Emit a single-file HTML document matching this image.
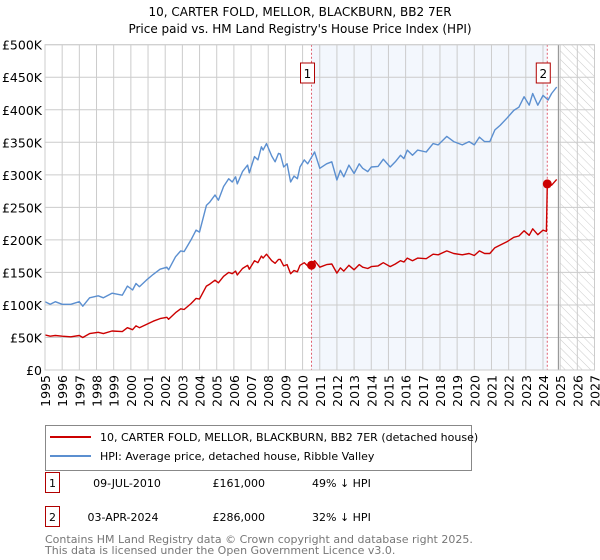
<!DOCTYPE html>
<html><head><meta charset="utf-8"><style>
body{margin:0;background:#fff;font-family:"DejaVu Sans","Liberation Sans",sans-serif;}
#wrap{position:relative;width:600px;height:560px;overflow:hidden;}
svg text{font-family:"DejaVu Sans","Liberation Sans",sans-serif;}
</style></head><body>
<div id="wrap">
<svg id="chart" width="600" height="560" style="position:absolute;left:0;top:0">
<defs>
<pattern id="hatch" width="6" height="6" patternUnits="userSpaceOnUse" patternTransform="rotate(-45)">
<line x1="0" y1="0" x2="0" y2="6" stroke="#ccc" stroke-width="1"/>
</pattern>
</defs>
<text x="300" y="16" text-anchor="middle" font-size="12" fill="#000">10, CARTER FOLD, MELLOR, BLACKBURN, BB2 7ER</text>
<text x="300" y="33" text-anchor="middle" font-size="12" fill="#000">Price paid vs. HM Land Registry's House Price Index (HPI)</text>
<g id="plot"></g>
</svg>
</div>
<script>
const yTicks=[0,50,100,150,200,250,300,350,400,450,500];
const yTickLabels=["£0","£50K","£100K","£150K","£200K","£250K","£300K","£350K","£400K","£450K","£500K"];
const xYears=[1995,1996,1997,1998,1999,2000,2001,2002,2003,2004,2005,2006,2007,2008,2009,2010,2011,2012,2013,2014,2015,2016,2017,2018,2019,2020,2021,2022,2023,2024,2025,2026,2027];
const hpiYears=[1995.0,1995.3,1995.6,1996.0,1996.5,1997.0,1997.2,1997.6,1998.1,1998.4,1998.9,1999.5,1999.8,2000.1,2000.3,2000.5,2000.9,2001.3,2001.7,2002.1,2002.2,2002.6,2002.9,2003.1,2003.5,2003.8,2004.0,2004.4,2004.6,2004.9,2005.1,2005.4,2005.7,2005.9,2006.1,2006.2,2006.5,2006.8,2006.9,2007.2,2007.4,2007.6,2007.7,2007.9,2008.2,2008.4,2008.6,2008.7,2008.9,2009.1,2009.3,2009.5,2009.7,2009.85,2010.1,2010.3,2010.7,2011.0,2011.4,2011.7,2012.0,2012.2,2012.4,2012.7,2013.0,2013.3,2013.5,2013.8,2014.0,2014.4,2014.7,2015.1,2015.4,2015.7,2015.9,2016.1,2016.4,2016.7,2017.2,2017.6,2017.9,2018.4,2018.8,2019.3,2019.7,2020.0,2020.3,2020.6,2020.9,2021.2,2021.5,2021.9,2022.3,2022.6,2022.9,2023.2,2023.4,2023.7,2024.0,2024.3,2024.5,2024.8];
const hpiValues=[105,101,105,101,101,105,98,111,114,111,118,115,129,123,133,128,138,147,155,158,154,174,183,182,200,215,212,253,258,269,261,282,294,289,297,286,305,315,303,328,323,343,338,348,329,320,333,332,312,317,289,298,294,312,323,317,335,310,317,320,292,307,297,315,302,317,310,305,312,313,324,312,320,330,325,338,330,338,335,348,346,359,351,346,351,346,358,351,351,369,376,387,399,404,420,407,425,407,422,415,425,435];
const priceYears=[1995.0,1995.3,1995.6,1996.0,1996.5,1997.0,1997.2,1997.6,1998.1,1998.4,1998.9,1999.5,1999.8,2000.1,2000.3,2000.5,2000.9,2001.3,2001.7,2002.1,2002.2,2002.6,2002.9,2003.1,2003.5,2003.8,2004.0,2004.4,2004.6,2004.9,2005.1,2005.4,2005.7,2005.9,2006.1,2006.2,2006.5,2006.8,2006.9,2007.2,2007.4,2007.6,2007.7,2007.9,2008.2,2008.4,2008.6,2008.7,2008.9,2009.1,2009.3,2009.5,2009.7,2009.85,2010.1,2010.3,2010.52,2010.7,2011.0,2011.4,2011.7,2012.0,2012.2,2012.4,2012.7,2013.0,2013.3,2013.5,2013.8,2014.0,2014.4,2014.7,2015.1,2015.4,2015.7,2015.9,2016.1,2016.4,2016.7,2017.2,2017.6,2017.9,2018.4,2018.8,2019.3,2019.7,2020.0,2020.3,2020.6,2020.9,2021.2,2021.5,2021.9,2022.3,2022.6,2022.9,2023.2,2023.4,2023.7,2024.0,2024.2,2024.25,2024.5,2024.8];
const priceValues=[54,52,53,52,51,53,50,56,58,56,60,59,65,62,68,65,70,75,79,81,78,88,94,93,102,110,109,129,132,138,134,144,150,148,152,146,156,161,155,168,165,175,172,178,168,164,170,170,160,162,148,153,151,161,165,160,161,168,158,162,163,149,157,152,161,154,162,158,156,159,160,165,159,163,168,166,172,168,172,171,178,177,183,179,177,179,176,183,179,179,188,192,197,204,206,214,207,217,208,215,213,286,284,293];
const saleYears=[2010.52,2024.25];
const saleValues=[161,286];
const saleLabels=["1","2"];

const L=45,R=594.5,T=44.7,B=370,X0=1995,X1=2027,YMAX=500;
const xs=v=>L+(v-X0)/(X1-X0)*(R-L);
const ys=v=>B-v/YMAX*(B-T);
const NS="http://www.w3.org/2000/svg";
const plot=document.getElementById('plot');
function mk(tag,attrs,parent){const e=document.createElementNS(NS,tag);for(const k in attrs)e.setAttribute(k,attrs[k]);(parent||plot).appendChild(e);return e;}

let e=mk('rect',{x:xs(saleYears[0]),y:T,width:xs(saleYears[1])-xs(saleYears[0]),height:B-T,fill:'#f3f7fd'});


e=mk('rect',{x:xs(2025),y:T,width:R-xs(2025),height:B-T,fill:'url(#hatch)'});


const grid=mk('g',{});


yTicks.forEach(v=>mk('line',{x1:L,x2:R,y1:ys(v),y2:ys(v),stroke:'#ccc','stroke-width':1},grid));
xYears.forEach(v=>mk('line',{x1:xs(v),x2:xs(v),y1:T,y2:B,stroke:'#ccc','stroke-width':1},grid));
e=mk('line',{x1:xs(2024.9),x2:xs(2024.9),y1:T,y2:B,stroke:'#999','stroke-width':1.2});


const yAx=mk('g',{});


yTicks.forEach((v,i)=>{const t=mk('text',{x:L-3,y:ys(v)+5,'text-anchor':'end','font-size':12.5,fill:'#000'},yAx);t.textContent=yTickLabels[i];});
const xAx=mk('g',{});


xYears.forEach(v=>{const t=mk('text',{x:0,y:0,'text-anchor':'end','font-size':12.5,fill:'#000',transform:`translate(${xs(v)+5},${B+5}) rotate(-90)`},xAx);t.textContent=v;});
saleYears.forEach((v,i)=>{const l=mk('line',{x1:xs(v),x2:xs(v),y1:T,y2:B,stroke:'#e06070','stroke-width':1,'stroke-dasharray':'2,2'});

});
function path(xa,va,col,name){const d=xa.map((x,i)=>(i?'L':'M')+xs(x).toFixed(1)+','+ys(va[i]).toFixed(1)).join('');const p=mk('path',{d:d,fill:'none',stroke:col,'stroke-width':1.4,'stroke-linejoin':'round'});

}
path(hpiYears,hpiValues,'#5b8fd0','hpi-line');
path(priceYears,priceValues,'#cc0000','price-paid-line');
saleYears.forEach((v,i)=>{const c=mk('circle',{cx:xs(v),cy:ys(saleValues[i]),r:4.5,fill:'#cc0000'});


const g=mk('g',{});


mk('rect',{x:xs(v)-11,y:63,width:14,height:20,fill:'#fff',stroke:'#b00000','stroke-width':1},g);
const t=mk('text',{x:xs(v)-4,y:78,'text-anchor':'middle','font-size':12,fill:'#000'},g);t.textContent=saleLabels[i];});
e=mk('rect',{x:L,y:T,width:R-L,height:B-T,fill:'none',stroke:'#ccc'});


</script>
<svg width="600" height="560" style="position:absolute;left:0;top:0">
<g>
<rect x="45.5" y="425.5" width="426" height="45" fill="#fff" stroke="#888"/>
<line x1="50" x2="91" y1="437" y2="437" stroke="#cc0000" stroke-width="2"/>
<text x="100" y="441" font-size="11" fill="#000">10, CARTER FOLD, MELLOR, BLACKBURN, BB2 7ER (detached house)</text>
<line x1="50" x2="91" y1="456" y2="456" stroke="#5b8fd0" stroke-width="2"/>
<text x="100" y="460" font-size="11" fill="#000">HPI: Average price, detached house, Ribble Valley</text>
</g>
<g>
<rect x="45.5" y="472.5" width="14" height="20" fill="none" stroke="#b00000"/>
<text x="52.5" y="487" text-anchor="middle" font-size="11">1</text>
<text x="127" y="487" text-anchor="middle" font-size="11">09-JUL-2010</text>
<text x="265" y="487" text-anchor="end" font-size="11">£161,000</text>
<text x="312" y="487" font-size="11">49% ↓ HPI</text>
</g>
<g>
<rect x="45.5" y="506.5" width="14" height="20" fill="none" stroke="#b00000"/>
<text x="52.5" y="521" text-anchor="middle" font-size="11">2</text>
<text x="123" y="521" text-anchor="middle" font-size="11">03-APR-2024</text>
<text x="265" y="521" text-anchor="end" font-size="11">£286,000</text>
<text x="312" y="521" font-size="11">32% ↓ HPI</text>
</g>
<g fill="#777" font-size="11">
<text x="45" y="543">Contains HM Land Registry data © Crown copyright and database right 2025.</text>
<text x="45" y="554">This data is licensed under the Open Government Licence v3.0.</text>
</g>
</svg>
</body></html>
